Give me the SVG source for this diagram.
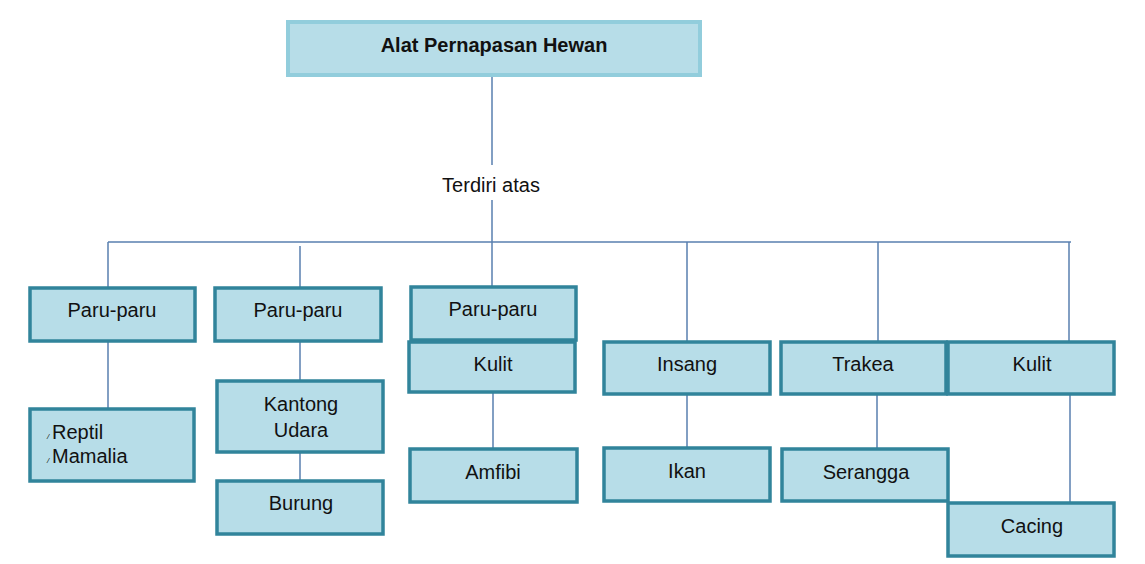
<svg xmlns="http://www.w3.org/2000/svg" width="1145" height="564" viewBox="0 0 1145 564">
<style>
.box{fill:#b7dde8;stroke:#31849b;stroke-width:3.5}
.title{fill:#b7dde8;stroke:#92cddc;stroke-width:4}
.t{font-family:"Liberation Sans",Arial,sans-serif;font-size:20px;fill:#111;text-anchor:middle}
.b{font-weight:bold;font-size:20px}
.c{fill:none;stroke:#5a80b0;stroke-width:1.5}
.sm{font-family:"Liberation Sans",Arial,sans-serif;font-size:8px;fill:#111;font-style:italic}
</style>
<rect width="1145" height="564" fill="#fff"/>
<g id="connectors">
<path class="c" d="M492 75V165M492 200V288M108 242H1071M108 242V288M300 246V288M687 242V342M878 242V342M1069 242V342"/>
<path class="c" d="M108 341V409M300 341V381M300 452V481M493 392V449M687 394V448M877 394V449M1070 394V503"/>
<text class="t" x="491" y="192">Terdiri atas</text>
</g>
<g id="title"><rect class="title" x="288" y="22" width="412" height="53"/><text class="t b" x="494" y="52">Alat Pernapasan Hewan</text></g>
<g id="n1"><rect class="box" x="30" y="288" width="165" height="53"/><text class="t" x="112" y="317">Paru-paru</text></g>
<g id="n2"><rect class="box" x="215" y="288" width="166" height="53"/><text class="t" x="298" y="317">Paru-paru</text></g>
<g id="n3"><rect class="box" x="411" y="287" width="165" height="53"/><text class="t" x="493" y="316">Paru-paru</text></g>
<g id="n4"><rect class="box" x="409" y="342" width="166" height="50"/><text class="t" x="493" y="371">Kulit</text></g>
<g id="n5"><rect class="box" x="604" y="342" width="166" height="52"/><text class="t" x="687" y="371">Insang</text></g>
<g id="n6"><rect class="box" x="781" y="342" width="165" height="52"/><text class="t" x="863" y="371">Trakea</text></g>
<g id="n7"><rect class="box" x="948" y="342" width="166" height="52"/><text class="t" x="1032" y="371">Kulit</text></g>
<g id="n8"><rect class="box" x="30" y="409" width="164" height="72"/>
<text class="sm" x="47" y="439">/</text><text class="t" x="52" y="439" style="text-anchor:start">Reptil</text>
<text class="sm" x="47" y="463">/</text><text class="t" x="52" y="463" style="text-anchor:start">Mamalia</text></g>
<g id="n9"><rect class="box" x="217" y="381" width="166" height="71"/><text class="t" x="301" y="411">Kantong</text><text class="t" x="301" y="437">Udara</text></g>
<g id="n10"><rect class="box" x="217" y="481" width="166" height="53"/><text class="t" x="301" y="510">Burung</text></g>
<g id="n11"><rect class="box" x="410" y="449" width="167" height="53"/><text class="t" x="493" y="479">Amfibi</text></g>
<g id="n12"><rect class="box" x="604" y="448" width="166" height="53"/><text class="t" x="687" y="478">Ikan</text></g>
<g id="n13"><rect class="box" x="782" y="449" width="166" height="52"/><text class="t" x="866" y="479">Serangga</text></g>
<g id="n14"><rect class="box" x="948" y="503" width="166" height="53"/><text class="t" x="1032" y="533">Cacing</text></g>
</svg>
